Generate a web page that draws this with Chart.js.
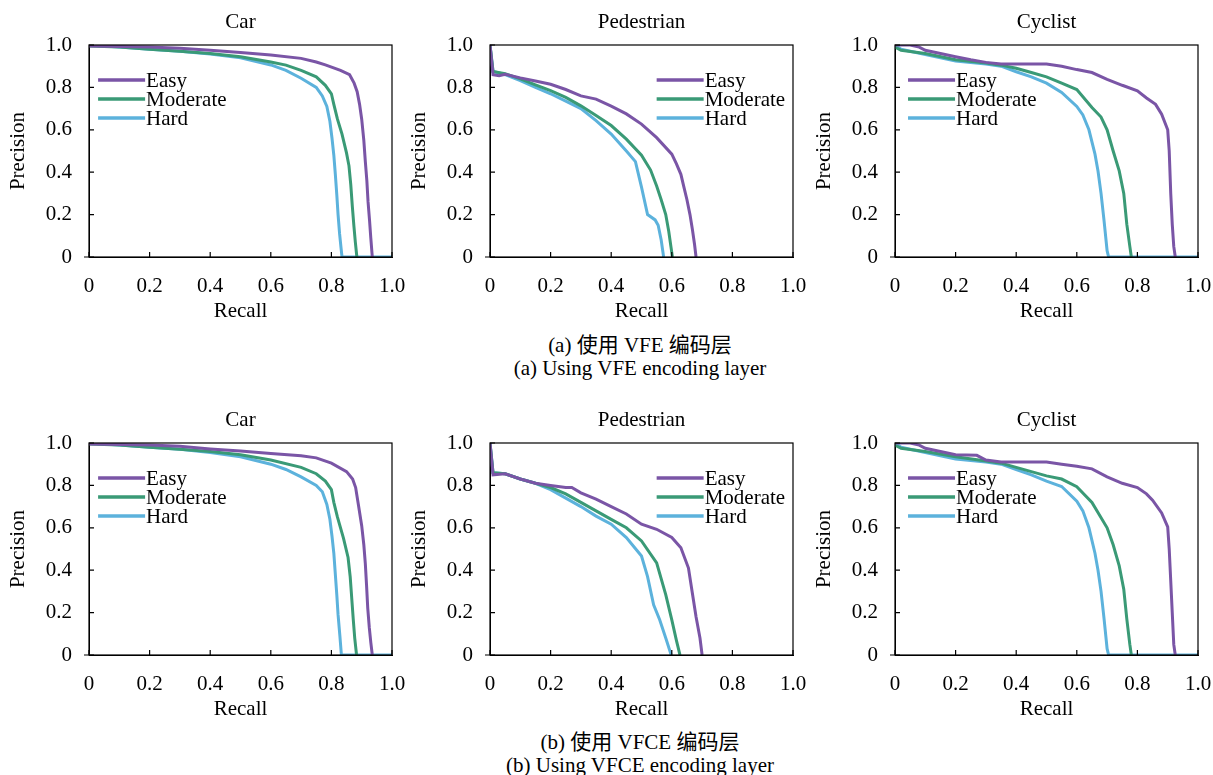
<!DOCTYPE html>
<html>
<head>
<meta charset="utf-8">
<script src="https://cdn.jsdelivr.net/npm/chart.js@4.4.1/dist/chart.umd.min.js"></script>
<style>
  body { margin: 0; background: #fff; width: 1213px; height: 775px; position: relative; overflow: hidden; }
  .box { position: absolute; width: 420px; height: 325px; }
  .cap { position: absolute; left: 0; width: 1280px; text-align: center; font-family: "Liberation Serif", "Noto Sans CJK SC", serif; font-size: 21px; color: #000; line-height: 22px; }
</style>
</head>
<body>
<div class="box" style="left:0;top:0"><canvas id="c1"></canvas></div>
<div class="box" style="left:401px;top:0"><canvas id="c2"></canvas></div>
<div class="box" style="left:806px;top:0"><canvas id="c3"></canvas></div>
<div class="box" style="left:0;top:398px"><canvas id="c4"></canvas></div>
<div class="box" style="left:401px;top:398px"><canvas id="c5"></canvas></div>
<div class="box" style="left:806px;top:398px"><canvas id="c6"></canvas></div>
<div class="cap" style="top:334px">(a) 使用 VFE 编码层</div>
<div class="cap" style="top:357px">(a) Using VFE encoding layer</div>
<div class="cap" style="top:731px">(b) 使用 VFCE 编码层</div>
<div class="cap" style="top:754px">(b) Using VFCE encoding layer</div>
<script>
// series names and tick values
var seriesNames = ['Easy', 'Moderate', 'Hard'];
var tickValues = [0, 0.2, 0.4, 0.6, 0.8, 1.0];
var tickLabels = ['0', '0.2', '0.4', '0.6', '0.8', '1.0'];

// [recall, precision]
// Car, VFE
var carVfeEasy = [[0,0.995],[0.1,0.993],[0.2,0.99],[0.3,0.985],[0.4,0.975],[0.5,0.965],[0.6,0.953],[0.7,0.937],[0.75,0.92],[0.78,0.906],[0.83,0.88],[0.86,0.86],[0.875,0.82],[0.885,0.78],[0.893,0.72],[0.9,0.65],[0.907,0.55],[0.912,0.45],[0.917,0.36],[0.921,0.26],[0.926,0.17],[0.93,0.09],[0.935,0]];
var carVfeModerate = [[0,0.995],[0.1,0.99],[0.2,0.98],[0.3,0.97],[0.4,0.96],[0.5,0.945],[0.6,0.92],[0.65,0.905],[0.7,0.88],[0.75,0.85],[0.78,0.81],[0.8,0.77],[0.808,0.72],[0.82,0.65],[0.835,0.58],[0.85,0.49],[0.858,0.43],[0.864,0.34],[0.869,0.24],[0.874,0.15],[0.879,0.07],[0.884,0]];
var carVfeHard = [[0,1.0],[0.1,0.99],[0.2,0.98],[0.3,0.97],[0.4,0.958],[0.5,0.94],[0.6,0.906],[0.65,0.88],[0.7,0.843],[0.75,0.8],[0.77,0.76],[0.785,0.71],[0.795,0.64],[0.802,0.56],[0.808,0.48],[0.813,0.39],[0.818,0.29],[0.822,0.2],[0.827,0.11],[0.832,0.04],[0.835,0],[1.0,0]];
// Pedestrian, VFE
var pedVfeEasy = [[0,1.0],[0.01,0.86],[0.03,0.855],[0.05,0.862],[0.1,0.845],[0.15,0.83],[0.2,0.815],[0.25,0.79],[0.3,0.76],[0.35,0.745],[0.4,0.712],[0.45,0.675],[0.5,0.627],[0.55,0.563],[0.6,0.485],[0.615,0.44],[0.63,0.39],[0.64,0.33],[0.65,0.27],[0.66,0.2],[0.668,0.13],[0.675,0.06],[0.68,0]];
var pedVfeModerate = [[0,1.0],[0.01,0.875],[0.05,0.865],[0.1,0.84],[0.15,0.812],[0.2,0.785],[0.25,0.753],[0.3,0.713],[0.35,0.668],[0.4,0.62],[0.45,0.556],[0.5,0.48],[0.53,0.41],[0.55,0.335],[0.565,0.27],[0.58,0.2],[0.59,0.12],[0.597,0.05],[0.602,0]];
var pedVfeHard = [[0,1.0],[0.01,0.875],[0.05,0.86],[0.1,0.832],[0.15,0.8],[0.2,0.77],[0.25,0.735],[0.3,0.7],[0.35,0.643],[0.4,0.58],[0.45,0.5],[0.48,0.45],[0.5,0.33],[0.52,0.2],[0.545,0.175],[0.555,0.15],[0.565,0.08],[0.573,0]];
// Cyclist, VFE
var cycVfeEasy = [[0,1.0],[0.05,1.0],[0.08,0.99],[0.1,0.975],[0.15,0.96],[0.2,0.945],[0.25,0.93],[0.3,0.918],[0.35,0.91],[0.4,0.91],[0.5,0.91],[0.55,0.9],[0.6,0.884],[0.65,0.87],[0.7,0.838],[0.75,0.81],[0.8,0.784],[0.83,0.75],[0.86,0.72],[0.88,0.674],[0.9,0.6],[0.905,0.5],[0.91,0.3],[0.915,0.155],[0.92,0.05],[0.925,0]];
var cycVfeModerate = [[0,0.99],[0.02,0.975],[0.1,0.96],[0.2,0.93],[0.3,0.915],[0.35,0.905],[0.4,0.89],[0.45,0.87],[0.5,0.85],[0.55,0.82],[0.6,0.79],[0.65,0.705],[0.68,0.66],[0.7,0.6],[0.72,0.5],[0.74,0.406],[0.755,0.3],[0.765,0.155],[0.775,0.05],[0.78,0]];
var cycVfeHard = [[0,1.0],[0.02,0.98],[0.1,0.955],[0.2,0.925],[0.3,0.91],[0.35,0.9],[0.4,0.874],[0.45,0.85],[0.5,0.82],[0.55,0.776],[0.6,0.71],[0.62,0.67],[0.64,0.6],[0.66,0.485],[0.67,0.406],[0.68,0.3],[0.69,0.17],[0.7,0.03],[0.705,0],[1.0,0]];
// Car, VFCE
var carVfceEasy = [[0,0.995],[0.1,0.993],[0.2,0.99],[0.3,0.985],[0.4,0.972],[0.5,0.962],[0.6,0.95],[0.7,0.94],[0.75,0.93],[0.8,0.905],[0.85,0.865],[0.87,0.83],[0.88,0.79],[0.89,0.7],[0.9,0.61],[0.907,0.52],[0.912,0.43],[0.916,0.33],[0.92,0.22],[0.925,0.13],[0.93,0.06],[0.935,0]];
var carVfceModerate = [[0,0.995],[0.1,0.99],[0.2,0.98],[0.3,0.97],[0.4,0.96],[0.5,0.945],[0.6,0.92],[0.7,0.885],[0.75,0.855],[0.78,0.82],[0.8,0.78],[0.808,0.72],[0.82,0.65],[0.84,0.55],[0.855,0.46],[0.862,0.37],[0.867,0.27],[0.872,0.17],[0.877,0.08],[0.883,0]];
var carVfceHard = [[0,1.0],[0.1,0.99],[0.2,0.98],[0.3,0.97],[0.4,0.955],[0.5,0.935],[0.6,0.9],[0.65,0.875],[0.7,0.84],[0.75,0.8],[0.77,0.77],[0.785,0.71],[0.795,0.64],[0.802,0.56],[0.808,0.48],[0.813,0.38],[0.818,0.28],[0.822,0.19],[0.828,0.09],[0.833,0],[1.0,0]];
// Pedestrian, VFCE
var pedVfceEasy = [[0,1.0],[0.01,0.85],[0.05,0.855],[0.1,0.83],[0.15,0.81],[0.2,0.8],[0.25,0.79],[0.27,0.79],[0.3,0.765],[0.35,0.735],[0.4,0.7],[0.45,0.665],[0.5,0.617],[0.55,0.593],[0.6,0.554],[0.63,0.506],[0.655,0.41],[0.667,0.3],[0.68,0.18],[0.693,0.08],[0.7,0]];
var pedVfceModerate = [[0,1.0],[0.01,0.86],[0.05,0.855],[0.1,0.83],[0.15,0.81],[0.2,0.79],[0.25,0.76],[0.3,0.72],[0.35,0.68],[0.4,0.64],[0.45,0.6],[0.5,0.538],[0.55,0.435],[0.58,0.285],[0.6,0.166],[0.615,0.07],[0.627,0]];
var pedVfceHard = [[0,1.0],[0.01,0.86],[0.05,0.855],[0.1,0.83],[0.15,0.81],[0.2,0.78],[0.25,0.74],[0.3,0.7],[0.35,0.655],[0.4,0.617],[0.45,0.554],[0.5,0.467],[0.52,0.37],[0.54,0.237],[0.56,0.166],[0.58,0.08],[0.598,0]];
// Cyclist, VFCE
var cycVfceEasy = [[0,1.0],[0.05,1.0],[0.08,0.99],[0.1,0.975],[0.15,0.96],[0.2,0.945],[0.27,0.942],[0.3,0.92],[0.35,0.91],[0.5,0.91],[0.55,0.9],[0.6,0.89],[0.65,0.878],[0.7,0.84],[0.75,0.81],[0.8,0.79],[0.83,0.76],[0.85,0.73],[0.88,0.67],[0.9,0.604],[0.905,0.5],[0.91,0.35],[0.915,0.2],[0.92,0.05],[0.925,0]];
var cycVfceModerate = [[0,0.99],[0.02,0.975],[0.1,0.96],[0.2,0.935],[0.3,0.915],[0.35,0.905],[0.4,0.885],[0.45,0.865],[0.5,0.845],[0.55,0.83],[0.6,0.794],[0.65,0.72],[0.7,0.6],[0.72,0.52],[0.74,0.42],[0.755,0.31],[0.765,0.17],[0.775,0.05],[0.78,0]];
var cycVfceHard = [[0,1.0],[0.02,0.98],[0.1,0.955],[0.2,0.925],[0.3,0.91],[0.35,0.9],[0.4,0.875],[0.45,0.85],[0.5,0.82],[0.55,0.795],[0.6,0.725],[0.62,0.68],[0.64,0.6],[0.66,0.48],[0.67,0.4],[0.68,0.3],[0.69,0.17],[0.7,0.03],[0.705,0],[1.0,0]];

var colors = ['#7a55a6', '#3a9a76', '#5cb2dc'];
var FONT = '"Liberation Serif", "Times New Roman", serif';

// title over the plot, frame, inward tick marks and the legend inside the plot
var framePlugin = {
    id: 'frame',
    afterDraw: function (chart, args, opts) {
        var ctx = chart.ctx, a = chart.chartArea;
        var xs = chart.scales.x, ys = chart.scales.y;
        ctx.save();
        ctx.fillStyle = '#000';
        ctx.font = '21px ' + FONT;
        ctx.textAlign = 'center';
        ctx.textBaseline = 'middle';
        ctx.fillText(opts.title, (a.left + a.right) / 2, 22);

        ctx.strokeStyle = '#000';
        ctx.lineWidth = 1.2;
        ctx.strokeRect(a.left, a.top, a.right - a.left, a.bottom - a.top);
        ctx.beginPath();
        tickValues.forEach(function (v) {
            var px = xs.getPixelForValue(v), py = ys.getPixelForValue(v);
            ctx.moveTo(px, a.bottom); ctx.lineTo(px, a.bottom - 5);
            ctx.moveTo(a.left, py); ctx.lineTo(a.left + 5, py);
        });
        ctx.moveTo(a.left - 5, a.bottom); ctx.lineTo(a.left, a.bottom);
        ctx.stroke();

        // legend
        var lx = a.left + opts.x * (a.right - a.left);
        var ly = a.top + 35;
        ctx.textAlign = 'left';
        seriesNames.forEach(function (name, i) {
            var y = ly + i * 19;
            ctx.strokeStyle = colors[i];
            ctx.lineWidth = 3.5;
            ctx.beginPath();
            ctx.moveTo(lx, y); ctx.lineTo(lx + 47, y);
            ctx.stroke();
            ctx.fillStyle = '#000';
            ctx.fillText(name, lx + 48, y + 1);
        });
        ctx.restore();
    }
};

function makeChart(id, title, series, legendX) {
    var ctx = document.getElementById(id).getContext('2d');
    return new Chart(ctx, {
        type: 'scatter',
        data: {
            datasets: series.map(function (pts, i) {
                return {
                    label: seriesNames[i],
                    data: pts.map(function (p) { return { x: p[0], y: p[1] }; }),
                    showLine: true,
                    borderColor: colors[i],
                    backgroundColor: colors[i],
                    borderWidth: 3,
                    pointRadius: 0,
                    tension: 0
                };
            })
        },
        options: {
            responsive: true,
            maintainAspectRatio: false,
            animation: false,
            layout: { padding: { left: 0, right: 28, top: 45, bottom: 0 } },
            plugins: {
                legend: { display: false },
                tooltip: { enabled: false },
                title: { display: false },
                frame: { x: legendX, title: title }
            },
            scales: {
                x: {
                    type: 'linear', min: 0, max: 1,
                    grid: { display: false, drawTicks: false },
                    border: { display: true, color: '#000' },
                    afterBuildTicks: function (s) { s.ticks = tickValues.map(function (v) { return { value: v }; }); },
                    afterFit: function (s) { s.height = 68; s.paddingLeft = 0; s.paddingRight = 0; },
                    ticks: {
                        color: '#000', padding: 17,
                        font: { family: FONT, size: 21 },
                        callback: function (v) { return tickLabels[tickValues.indexOf(v)]; }
                    },
                    title: {
                        display: true, text: 'Recall', color: '#000',
                        font: { family: FONT, size: 21 },
                        padding: { top: 0, bottom: 1 }
                    }
                },
                y: {
                    type: 'linear', min: 0, max: 1,
                    grid: { display: false, drawTicks: false },
                    border: { display: true, color: '#000' },
                    afterBuildTicks: function (s) { s.ticks = tickValues.map(function (v) { return { value: v }; }); },
                    afterFit: function (s) { s.width = 89; s.paddingTop = 0; s.paddingBottom = 0; },
                    ticks: {
                        color: '#000', padding: 17,
                        font: { family: FONT, size: 21 },
                        callback: function (v) { return tickLabels[tickValues.indexOf(v)]; }
                    },
                    title: {
                        display: true, text: 'Precision', color: '#000',
                        font: { family: FONT, size: 21 },
                        padding: { top: 6, bottom: 0 }
                    }
                }
            }
        },
        plugins: [framePlugin]
    });
}

makeChart('c1', 'Car', [carVfeEasy, carVfeModerate, carVfeHard], 0.03);
makeChart('c2', 'Pedestrian', [pedVfeEasy, pedVfeModerate, pedVfeHard], 0.55);
makeChart('c3', 'Cyclist', [cycVfeEasy, cycVfeModerate, cycVfeHard], 0.043);
makeChart('c4', 'Car', [carVfceEasy, carVfceModerate, carVfceHard], 0.03);
makeChart('c5', 'Pedestrian', [pedVfceEasy, pedVfceModerate, pedVfceHard], 0.55);
makeChart('c6', 'Cyclist', [cycVfceEasy, cycVfceModerate, cycVfceHard], 0.043);
</script>
</body>
</html>
